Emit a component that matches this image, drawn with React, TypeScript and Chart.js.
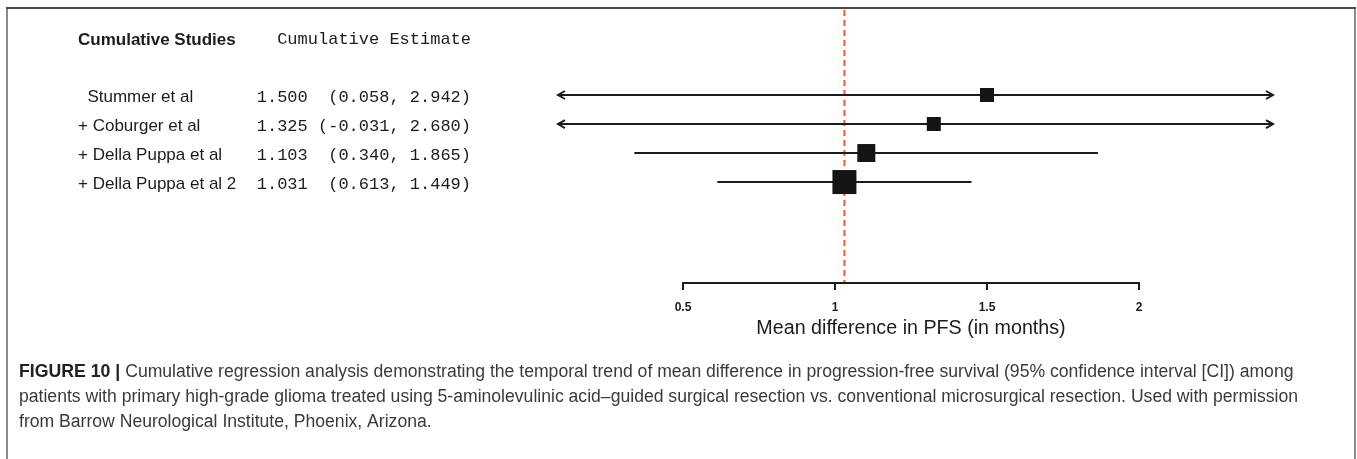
import { useEffect, useRef } from "react";
import { Chart, registerables } from "chart.js";

Chart.register(...registerables);

// Cumulative meta-analysis: each row adds one study to the pooled estimate
const studies = ["Stummer et al", "+ Coburger et al", "+ Della Puppa et al", "+ Della Puppa et al 2"];
const estimate = [1.5, 1.325, 1.103, 1.031];
const ciLower = [0.058, -0.031, 0.34, 0.613];
const ciUpper = [2.942, 2.68, 1.865, 1.449];

// Axis ticks and their labels
const axisTicks = [0.5, 1, 1.5, 2];
const tickLabels = ["0.5", "1", "1.5", "2"];

const headerStudies = "Cumulative Studies";
const headerEstimate = "Cumulative Estimate";
const axisTitle = "Mean difference in PFS (in months)";
const captionLead = "FIGURE 10 |";
const captionLines = [
  "Cumulative regression analysis demonstrating the temporal trend of mean difference in progression-free survival (95% confidence interval [CI]) among",
  "patients with primary high-grade glioma treated using 5-aminolevulinic acid\u2013guided surgical resection vs. conventional microsurgical resection. Used with permission",
  "from Barrow Neurological Institute, Phoenix, Arizona.",
];

// Styling
const W = 1357;
const H = 459;
const SANS = "'Liberation Sans', Arial, Helvetica, sans-serif";
const MONO = "'Liberation Mono', 'Courier New', monospace";
const INK = "#1c1c1c";
const REF_RED = "#f2553a";
const boxSide = [14, 14, 18, 24];
const X_MIN = 0.0888;
const X_MAX = 2.4408;
const Y_MIN = -2.93;
const Y_MAX = 6.48;
const HEADER_ROW = -1.9;

const fmt = (v: number) => v.toFixed(3);
const estimateText = estimate.map(
  (e, i) => `${fmt(e)} ${("(" + fmt(ciLower[i])).padStart(7)}, ${fmt(ciUpper[i])})`
);

const forestPlugin = {
  id: "forestDecor",
  beforeDraw(chart: any) {
    const { ctx } = chart;
    ctx.save();
    ctx.fillStyle = "#ffffff";
    ctx.fillRect(0, 0, chart.width, chart.height);
    ctx.restore();
  },
  beforeDatasetsDraw(chart: any) {
    const { ctx, chartArea, scales } = chart;
    const px = scales.x.getPixelForValue(estimate[estimate.length - 1]);
    ctx.save();
    ctx.strokeStyle = REF_RED;
    ctx.lineWidth = 2;
    ctx.setLineDash([6, 4]);
    ctx.beginPath();
    ctx.moveTo(px, chartArea.top);
    ctx.lineTo(px, chartArea.bottom);
    ctx.stroke();
    ctx.restore();
  },
  afterDatasetsDraw(chart: any) {
    const { ctx, chartArea, scales } = chart;
    const { x, y } = scales;
    ctx.save();
    ctx.strokeStyle = INK;
    ctx.lineWidth = 2;
    ctx.lineJoin = "miter";
    // arrowheads where an interval runs past the plotting window
    studies.forEach((_, i) => {
      const py = y.getPixelForValue(i);
      if (ciLower[i] < x.min) {
        const ax = chartArea.left;
        ctx.beginPath();
        ctx.moveTo(ax + 7, py - 4);
        ctx.lineTo(ax, py);
        ctx.lineTo(ax + 7, py + 4);
        ctx.stroke();
      }
      if (ciUpper[i] > x.max) {
        const ax = chartArea.right;
        ctx.beginPath();
        ctx.moveTo(ax - 7, py - 4);
        ctx.lineTo(ax, py);
        ctx.lineTo(ax - 7, py + 4);
        ctx.stroke();
      }
    });
    ctx.restore();
  },
  afterDraw(chart: any) {
    const { ctx, chartArea, scales } = chart;
    const { x, y } = scales;
    ctx.save();

    // figure frame
    ctx.lineWidth = 2;
    ctx.strokeStyle = "#8a8a8a";
    ctx.beginPath();
    ctx.moveTo(7, 8);
    ctx.lineTo(7, H);
    ctx.moveTo(1355, 8);
    ctx.lineTo(1355, H);
    ctx.stroke();
    ctx.strokeStyle = "#4a4a4a";
    ctx.beginPath();
    ctx.moveTo(6, 8);
    ctx.lineTo(1356, 8);
    ctx.stroke();

    // column headers
    const hy = y.getPixelForValue(HEADER_ROW);
    ctx.fillStyle = INK;
    ctx.textBaseline = "middle";
    ctx.textAlign = "left";
    ctx.font = `bold 17px ${SANS}`;
    ctx.fillText(headerStudies, 78, hy);
    ctx.font = `17px ${MONO}`;
    ctx.textAlign = "right";
    ctx.fillText(headerEstimate, 471, hy);

    // study rows
    studies.forEach((s, i) => {
      const py = y.getPixelForValue(i) + 2;
      ctx.font = `17px ${SANS}`;
      ctx.textAlign = "left";
      const indent = s.startsWith("+") ? 0 : ctx.measureText("  ").width;
      ctx.fillText(s, 78 + indent, py);
      ctx.font = `17px ${MONO}`;
      ctx.textAlign = "right";
      ctx.fillText(estimateText[i], 471, py);
    });

    // x axis spanning the labelled ticks
    const ay = chartArea.bottom;
    const x0 = x.getPixelForValue(axisTicks[0]);
    const x1 = x.getPixelForValue(axisTicks[axisTicks.length - 1]);
    ctx.strokeStyle = INK;
    ctx.lineWidth = 2;
    ctx.beginPath();
    ctx.moveTo(x0, ay);
    ctx.lineTo(x1, ay);
    axisTicks.forEach((t) => {
      const tx = x.getPixelForValue(t);
      ctx.moveTo(tx, ay - 1);
      ctx.lineTo(tx, ay + 7);
    });
    ctx.stroke();

    ctx.textAlign = "center";
    ctx.font = `bold 12px ${SANS}`;
    axisTicks.forEach((t, k) => {
      ctx.fillText(tickLabels[k], x.getPixelForValue(t), ay + 25);
    });
    ctx.font = `19.7px ${SANS}`;
    ctx.fillText(axisTitle, (x0 + x1) / 2, ay + 46);

    // caption
    ctx.textAlign = "left";
    const cx = 19;
    const cy = [372, 397, 422];
    ctx.font = `bold 17.7px ${SANS}`;
    ctx.fillStyle = "#222222";
    ctx.fillText(captionLead, cx, cy[0]);
    const leadW = ctx.measureText(captionLead + " ").width;
    ctx.font = `17.6px ${SANS}`;
    ctx.fillStyle = "#3a3a3a";
    ctx.fillText(captionLines[0], cx + leadW, cy[0]);
    ctx.fillText(captionLines[1], cx, cy[1]);
    ctx.fillText(captionLines[2], cx, cy[2]);

    ctx.restore();
  },
};

export default function App() {
  const canvasRef = useRef<HTMLCanvasElement | null>(null);

  useEffect(() => {
    if (!canvasRef.current) return;
    const intervals = studies.map((s, i) => ({
      type: "line" as const,
      label: s,
      data: [
        { x: ciLower[i], y: i },
        { x: ciUpper[i], y: i },
      ],
      borderColor: INK,
      borderWidth: 2,
      pointRadius: 0,
      showLine: true,
      clip: 0,
      order: 2,
    }));
    const chart = new Chart(canvasRef.current, {
      type: "scatter",
      data: {
        datasets: [
          ...intervals,
          {
            type: "scatter" as const,
            label: "Estimate",
            data: estimate.map((e, i) => ({ x: e, y: i })),
            pointStyle: "rect",
            pointRadius: boxSide.map((s) => s / Math.SQRT2),
            backgroundColor: "#151515",
            borderColor: "#151515",
            borderWidth: 0,
            order: 1,
          },
        ] as any,
      },
      options: {
        animation: false,
        responsive: false,
        events: [],
        layout: {
          autoPadding: false,
          padding: { left: 558, right: W - 1273, top: 10, bottom: H - 283 },
        },
        plugins: { legend: { display: false }, tooltip: { enabled: false } },
        scales: {
          x: { type: "linear", min: X_MIN, max: X_MAX, display: false },
          y: { type: "linear", min: Y_MIN, max: Y_MAX, reverse: true, display: false },
        },
      },
      plugins: [forestPlugin],
    });
    return () => chart.destroy();
  }, []);

  return (
    <div style={{ position: "fixed", left: 0, top: 0, width: W, height: H, background: "#fff" }}>
      <canvas ref={canvasRef} width={W} height={H} style={{ width: W, height: H, display: "block" }} />
    </div>
  );
}
